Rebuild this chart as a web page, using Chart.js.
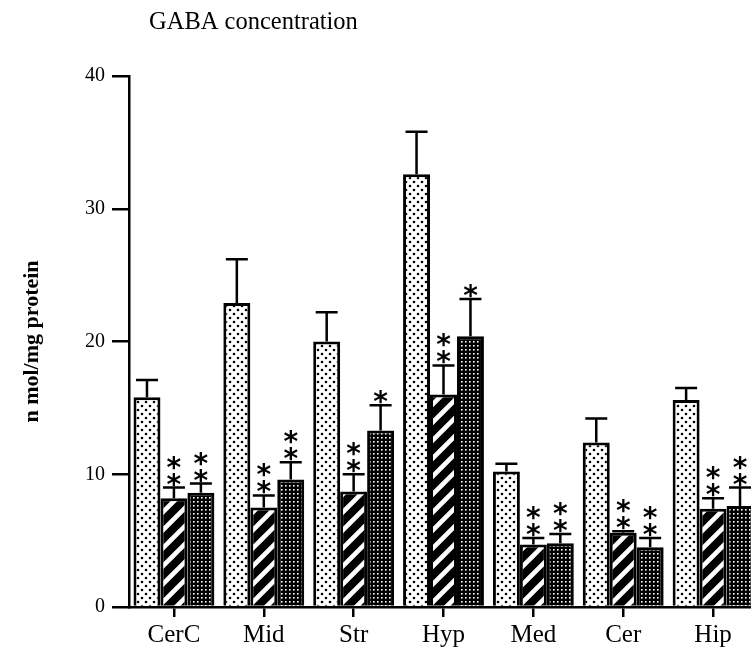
<!DOCTYPE html>
<html>
<head>
<meta charset="utf-8">
<script src="https://cdn.jsdelivr.net/npm/chart.js@4.4.1/dist/chart.umd.min.js"></script>
<style>
  html, body { margin: 0; padding: 0; background: #fff; overflow: hidden; }
  canvas { display: block; }
</style>
</head>
<body>
<canvas id="chart" width="760" height="658"></canvas>
<script>
// data (n mol/mg protein)
const regions = ['CerC', 'Mid', 'Str', 'Hyp', 'Med', 'Cer', 'Hip'];
const controlMean = [15.8, 22.9, 20.0, 32.6, 10.2, 12.4, 15.6];
const controlErr  = [1.3, 3.3, 2.2, 3.2, 0.6, 1.8, 0.9];
const group2Mean  = [8.2, 7.5, 8.7, 16.0, 4.7, 5.6, 7.4];
const group2Err   = [0.8, 0.9, 1.3, 2.2, 0.5, 0.1, 0.8];
const group3Mean  = [8.6, 9.6, 13.3, 20.4, 4.8, 4.5, 7.6];
const group3Err   = [0.7, 1.3, 1.9, 2.8, 0.7, 0.7, 1.4];
const group2Stars = ['**', '**', '**', '**', '**', '**', '**'];
const group3Stars = ['**', '**', '*', '*', '**', '**', '**'];
const yTicks = [0, 10, 20, 30, 40];

const errs = [controlErr, group2Err, group3Err];
const stars = [null, group2Stars, group3Stars];

const canvas = document.getElementById('chart');
const ctx = canvas.getContext('2d');

// fill patterns
function makeTile(w, h, draw) {
    const c = document.createElement('canvas');
    c.width = w; c.height = h;
    draw(c.getContext('2d'), w, h);
    return ctx.createPattern(c, 'repeat');
}

const dotted = makeTile(8, 8, (g, w, h) => {
    g.fillStyle = '#fff';
    g.fillRect(0, 0, w, h);
    g.fillStyle = '#000';
    g.beginPath();
    g.arc(2, 2, 1.3, 0, Math.PI * 2);
    g.fill();
    g.beginPath();
    g.arc(6, 6, 1.3, 0, Math.PI * 2);
    g.fill();
});

const hatched = makeTile(18, 18, (g, w, h) => {
    g.fillStyle = '#fff';
    g.fillRect(0, 0, w, h);
    g.strokeStyle = '#000';
    g.lineWidth = 8;
    g.beginPath();
    g.moveTo(-5, h + 5); g.lineTo(w + 5, -5);
    g.moveTo(-5, 5); g.lineTo(5, -5);
    g.moveTo(w - 5, h + 5); g.lineTo(w + 5, h - 5);
    g.stroke();
});

const dense = makeTile(4, 4, (g, w, h) => {
    g.fillStyle = '#000';
    g.fillRect(0, 0, w, h);
    g.fillStyle = '#fff';
    g.fillRect(1, 1, 1.6, 1.6);
});

// error bars and significance stars
const errorBars = {
    id: 'errorBars',
    afterDatasetsDraw(chart) {
        const c = chart.ctx;
        const y = chart.scales.y;
        c.save();
        c.strokeStyle = '#000';
        c.fillStyle = '#000';
        c.lineWidth = 2.5;
        chart.data.datasets.forEach((ds, d) => {
            chart.getDatasetMeta(d).data.forEach((bar, i) => {
                const top = y.getPixelForValue(ds.data[i] + errs[d][i]);
                c.beginPath();
                c.moveTo(bar.x, bar.y);
                c.lineTo(bar.x, top);
                c.moveTo(bar.x - 11, top);
                c.lineTo(bar.x + 11, top);
                c.stroke();
                if (stars[d]) {
                    c.font = 'bold 28px "DejaVu Sans"';
                    c.textAlign = 'center';
                    c.textBaseline = 'alphabetic';
                    for (let k = 0; k < stars[d][i].length; k++) {
                        const cy = top - 11 - k * 17;
                        c.fillText('*', bar.x, cy + 17);
                    }
                }
            });
        });
        c.restore();
    }
};

const chartTitle = {
    id: 'chartTitle',
    afterDraw(chart) {
        const c = chart.ctx;
        c.save();
        c.font = '24.5px "Liberation Serif"';
        c.fillStyle = '#000';
        c.textAlign = 'left';
        c.textBaseline = 'middle';
        c.fillText('GABA concentration', 149, 23);
        c.restore();
    }
};

new Chart(ctx, {
    type: 'bar',
    data: {
        labels: regions,
        datasets: [
            { label: 'Control', data: controlMean, backgroundColor: dotted },
            { label: 'Group 2', data: group2Mean, backgroundColor: hatched },
            { label: 'Group 3', data: group3Mean, backgroundColor: dense }
        ].map(ds => Object.assign(ds, { borderColor: '#000', borderWidth: 3, borderSkipped: 'bottom' }))
    },
    options: {
        responsive: false,
        animation: false,
        events: [],
        layout: { padding: { top: 76, right: 2, left: 0, bottom: 0 } },
        datasets: { bar: { categoryPercentage: 0.9, barPercentage: 1.0 } },
        plugins: {
            legend: { display: false },
            tooltip: { enabled: false },
            title: { display: false }
        },
        scales: {
            x: {
                afterFit: s => { s.height = 51; },
                grid: { offset: false, drawOnChartArea: false, drawTicks: true, tickLength: 10, color: '#000', lineWidth: 2.5 },
                border: { color: '#000', width: 2.5 },
                ticks: { color: '#000', font: { family: 'Liberation Serif', size: 25 }, padding: 3 }
            },
            y: {
                min: 0,
                max: 40,
                afterFit: s => { s.width = 129; },
                afterBuildTicks: s => { s.ticks = yTicks.map(v => ({ value: v })); },
                grid: { drawOnChartArea: false, drawTicks: true, tickLength: 17, color: '#000', lineWidth: 2.5 },
                border: { color: '#000', width: 2.5 },
                ticks: { color: '#000', font: { family: 'Liberation Serif', size: 20 }, padding: 7 },
                title: {
                    display: true,
                    text: 'n mol/mg protein',
                    color: '#000',
                    font: { family: 'Liberation Serif', size: 22, weight: 'bold' },
                    padding: { top: 19, bottom: 0 }
                }
            }
        }
    },
    plugins: [errorBars, chartTitle]
});
</script>
</body>
</html>
